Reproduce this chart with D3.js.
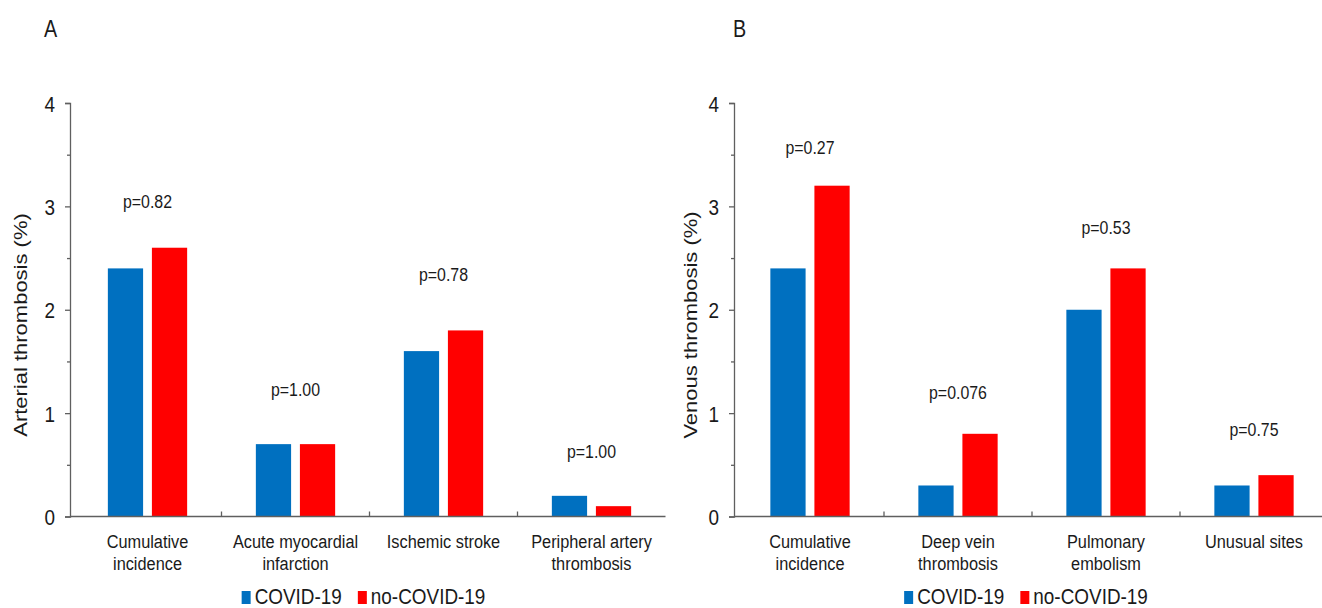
<!DOCTYPE html>
<meta charset="utf-8">
<title>Arterial and venous thrombosis</title>
<style>
  body { margin: 0; background: #fff; }
  text { font-family: "Liberation Sans", Arial, sans-serif; fill: #1a1a1a; }
</style>
<body>
<script src="https://cdnjs.cloudflare.com/ajax/libs/d3/7.8.5/d3.min.js"></script>
<script type="text/javascript">

// data
var groups = ["COVID-19", "no-COVID-19"];
var groupColors = ["#0070c0", "#ff0000"];

var arterialCats = [["Cumulative", "incidence"], ["Acute myocardial", "infarction"], ["Ischemic stroke"], ["Peripheral artery", "thrombosis"]];
var arterialCovid = [2.4, 0.7, 1.6, 0.2];
var arterialNoCovid = [2.6, 0.7, 1.8, 0.1];
var arterialP = ["p=0.82", "p=1.00", "p=0.78", "p=1.00"];
var arterialPAt = [3.04, 1.22, 2.34, 0.62];

var venousCats = [["Cumulative", "incidence"], ["Deep vein", "thrombosis"], ["Pulmonary", "embolism"], ["Unusual sites"]];
var venousCovid = [2.4, 0.3, 2.0, 0.3];
var venousNoCovid = [3.2, 0.8, 2.4, 0.4];
var venousP = ["p=0.27", "p=0.076", "p=0.53", "p=0.75"];
var venousPAt = [3.56, 1.19, 2.79, 0.84];

var yTicks = [0, 1, 2, 3, 4];
var yMinorTicks = [0.5, 1.5, 2.5, 3.5];

var width = 1322, height = 608;
var SX = 0.86;   // the figure is squeezed sideways, so is its text
var axisColor = "#5f5f5f";

var svg = d3.select("body").append("svg")
  .attr("width", width)
  .attr("height", height);

var y = d3.scaleLinear().domain([0, 4]).range([516.5, 103]);

function addText(g, x, yy, txt, size, anchor) {
  return g.append("text")
    .attr("transform", "translate(" + x + "," + yy + ") scale(" + SX + ",1)")
    .attr("text-anchor", anchor || "middle")
    .style("font-size", size + "px")
    .text(txt);
}

function drawPanel(opt) {
  var g = svg.append("g");
  var x0 = opt.left, plotW = 592;

  // categories start a few px right of the y axis
  var x = d3.scaleBand().domain(d3.range(opt.cats.length)).range([x0 + opt.shift, x0 + opt.shift + plotW]);
  var xs = d3.scaleBand().domain(groups).range([0, x.bandwidth()])
    .paddingInner(0.2).paddingOuter(0.78);

  // panel letter
  addText(g, opt.letterX, 37, opt.letter, 23, "start");

  // y title
  g.append("text")
    .attr("transform", "translate(" + opt.titleX + "," + 325 + ") rotate(-90) scale(1," + SX + ")")
    .attr("text-anchor", "middle")
    .style("font-size", "22px")
    .text(opt.title);

  // bars
  var series = [opt.covid, opt.noCovid];
  series.forEach(function (vals, si) {
    g.selectAll(null).data(vals).enter().append("rect")
      .attr("x", function (d, i) { return x(i) + xs(groups[si]); })
      .attr("width", xs.bandwidth())
      .attr("y", function (d) { return y(d); })
      .attr("height", function (d) { return y(0) - y(d); })
      .style("fill", groupColors[si]);
  });

  // y axis, major and minor ticks
  var ya = g.append("g").attr("transform", "translate(" + x0 + ",0)")
    .call(d3.axisLeft(y).tickValues(yTicks).tickSize(5).tickFormat(d3.format("d")));
  ya.selectAll("text")
    .attr("x", null).attr("dy", null)
    .attr("transform", "translate(-15,8) scale(" + SX + ",1)")
    .style("font-size", "22px")
    .attr("font-family", null);
  g.append("g").attr("transform", "translate(" + x0 + ",0)")
    .call(d3.axisLeft(y).tickValues(yMinorTicks).tickSize(3).tickFormat(""))
    .select(".domain").remove();
  g.selectAll(".tick line, .domain").style("stroke", axisColor).style("stroke-width", 1.3);

  // x axis line with upward ticks between categories
  g.append("line")
    .attr("x1", x0).attr("x2", x0 + opt.shift + plotW)
    .attr("y1", y(0)).attr("y2", y(0))
    .style("stroke", axisColor).style("stroke-width", 1.5);
  g.selectAll(null).data(d3.range(1, opt.cats.length)).enter().append("line")
    .attr("x1", function (i) { return x(i); })
    .attr("x2", function (i) { return x(i); })
    .attr("y1", y(0)).attr("y2", y(0) - 5)
    .style("stroke", axisColor).style("stroke-width", 1.3);

  // category labels
  opt.cats.forEach(function (lines, i) {
    lines.forEach(function (ln, li) {
      addText(g, x(i) + x.bandwidth() / 2, 548 + li * 22, ln, 19);
    });
  });

  // p values
  opt.p.forEach(function (p, i) {
    addText(g, x(i) + x.bandwidth() / 2, y(opt.pAt[i]) + 6, p, 18.5);
  });

  // legend, centred under the plot
  var lg = g.append("g");
  var cx = 0;
  groups.forEach(function (name, si) {
    lg.append("rect")
      .attr("x", cx).attr("y", -13)
      .attr("width", 9).attr("height", 13)
      .style("fill", groupColors[si]);
    var t = addText(lg, cx + 13, 0, name, 22, "start");
    cx += 13 + t.node().getComputedTextLength() * SX + 16;
  });
  cx -= 16;
  lg.attr("transform", "translate(" + (x0 + opt.shift + plotW / 2 - 6 - cx / 2) + ",604)");
}

drawPanel({
  left: 70, shift: 3.5, letter: "A", letterX: 44, titleX: 27,
  title: "Arterial thrombosis (%)",
  cats: arterialCats, covid: arterialCovid, noCovid: arterialNoCovid,
  p: arterialP, pAt: arterialPAt
});

drawPanel({
  left: 734, shift: 2, letter: "B", letterX: 733, titleX: 697,
  title: "Venous thrombosis (%)",
  cats: venousCats, covid: venousCovid, noCovid: venousNoCovid,
  p: venousP, pAt: venousPAt
});

</script>
</body>
